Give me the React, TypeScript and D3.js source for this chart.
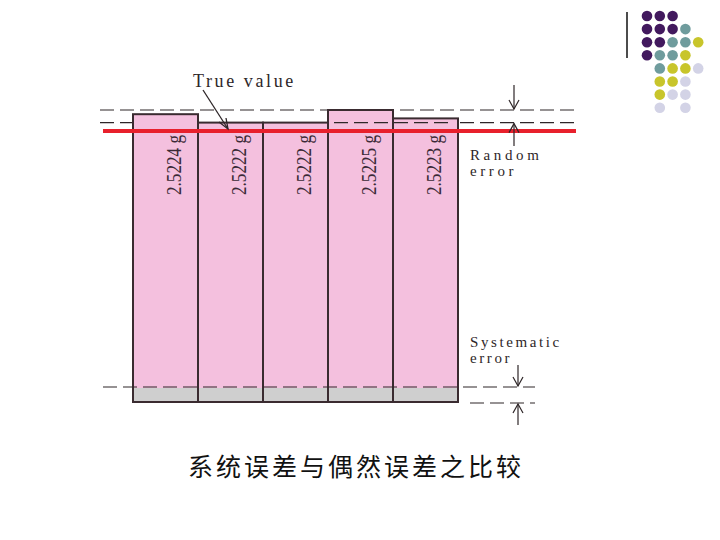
import * as d3 from "d3";

// measurements of the same sample (g)
const samples = ["2.5224 g", "2.5222 g", "2.5222 g", "2.5225 g", "2.5223 g"];
const values = [2.5224, 2.5222, 2.5222, 2.5225, 2.5223];
const trueValue = 2.522;
const caption = "系统误差与偶然误差之比较";

const dotColors: Record<string, string> = {
  p: "#42195e",
  t: "#6f9c9d",
  y: "#c8c52b",
  l: "#d3d3e6",
};
// logo dot grid, one string per row, "." = empty
const dotRows = ["ppp..", "pppt.", "ppTty", "ptty.", ".tyyl", ".yyl.", ".yll.", ".l.l."];

const W = 720;
const H = 540;
const serif = "'Liberation Serif', 'DejaVu Serif', serif";
const ink = "#2e2628";

function Arrow({ x, from, to }: { x: number; from: number; to: number }) {
  const dir = to > from ? 1 : -1;
  return (
    <g stroke={ink} strokeWidth={1.2} fill="none">
      <line x1={x} x2={x} y1={from} y2={to} />
      <polyline points={`${x - 5},${to - dir * 9} ${x},${to} ${x + 5},${to - dir * 9}`} />
    </g>
  );
}

function Note({ x, y, lines, spacing }: { x: number; y: number; lines: string[]; spacing: number }) {
  return (
    <g>
      {lines.map((t, i) => (
        <text
          key={t}
          x={x}
          y={y + i * 16}
          fontFamily={serif}
          fontSize={15}
          letterSpacing={spacing}
          fill={ink}
        >
          {t}
        </text>
      ))}
    </g>
  );
}

export default function App() {
  const x = d3
    .scaleBand<number>()
    .domain(values.map((_, i) => i))
    .range([133, 458])
    .padding(0);
  const y = d3.scaleLinear().domain([trueValue, 2.5225]).range([131, 110]);
  const base = 402;
  const sysTop = 388;

  const maxY = y(d3.max(values) as number);
  const minY = y(d3.min(values) as number);
  const maxIdx = d3.maxIndex(values);

  return (
    <svg
      width={W}
      height={H}
      style={{ position: "absolute", left: 0, top: 0, background: "#fff" }}
    >
      {/* logo */}
      <line x1={627} x2={627} y1={12} y2={58} stroke="#111" strokeWidth={1.5} />
      {dotRows.map((row, r) =>
        row.split("").map((c, ci) =>
          c === "." ? null : (
            <circle
              key={`${r}-${ci}`}
              cx={647 + ci * 12.8}
              cy={16 + r * 13.1}
              r={5.3}
              fill={dotColors[c.toLowerCase()]}
            />
          )
        )
      )}

      {/* dashed reference lines (spread) */}
      <g stroke={ink} strokeWidth={1.1} strokeDasharray="14,6">
        <line x1={100} x2={575} y1={maxY} y2={maxY} />
        <line x1={100} x2={575} y1={minY} y2={minY} />
        <line x1={470} x2={535} y1={base + 1} y2={base + 1} />
      </g>

      {/* bars */}
      {values.map((v, i) => {
        const x0 = x(i) as number;
        const bw = x.bandwidth();
        return (
          <g key={i}>
            <rect x={x0} y={y(v)} width={bw} height={sysTop - y(v)} fill="#f4c0de" />
            <rect x={x0} y={sysTop} width={bw} height={base - sysTop} fill="#cfcfcf" />
            <rect
              x={x0}
              y={y(v)}
              width={bw}
              height={base - y(v)}
              fill="none"
              stroke="#3a2b30"
              strokeWidth={2}
            />
            <text
              transform={`translate(${x0 + bw / 2 + 15},165) rotate(-90)`}
              textAnchor="middle"
              fontFamily={serif}
              fontSize={20}
              textLength={60}
              lengthAdjust="spacingAndGlyphs"
              fill="#3a2a36"
            >
              {samples[i]}
            </text>
          </g>
        );
      })}

      {/* spread line seen through the tallest bar, systematic baseline */}
      <g stroke={ink} strokeWidth={1.1} strokeDasharray="14,6">
        <line
          x1={(x(maxIdx) as number) + 6}
          x2={(x(maxIdx) as number) + x.bandwidth() + 60}
          y1={minY}
          y2={minY}
        />
        <line x1={103} x2={535} y1={sysTop - 1} y2={sysTop - 1} />
      </g>

      {/* true value */}
      <line x1={103} x2={576} y1={y(trueValue)} y2={y(trueValue)} stroke="#e8202c" strokeWidth={4} />
      <text x={193} y={87} fontFamily={serif} fontSize={18} letterSpacing={2.6} fill={ink}>
        True value
      </text>
      <g stroke={ink} strokeWidth={1.3} fill="none">
        <line x1={203} y1={90} x2={228} y2={129} />
        <polyline points="219,122 228,129 226,118" />
      </g>

      {/* random error */}
      <Arrow x={514} from={85} to={maxY - 1} />
      <Arrow x={514} from={146} to={minY + 1} />
      <Note x={470} y={160} lines={["Random", "error"]} spacing={3.6} />

      {/* systematic error */}
      <Arrow x={518} from={365} to={sysTop - 2} />
      <Arrow x={518} from={425} to={base + 2} />
      <Note x={470} y={347} lines={["Systematic", "error"]} spacing={2.6} />

      <text
        x={356}
        y={476}
        textAnchor="middle"
        fontFamily="'Noto Sans CJK SC', sans-serif"
        fontSize={25}
        letterSpacing={3}
        fill="#111"
      >
        {caption}
      </text>
    </svg>
  );
}
